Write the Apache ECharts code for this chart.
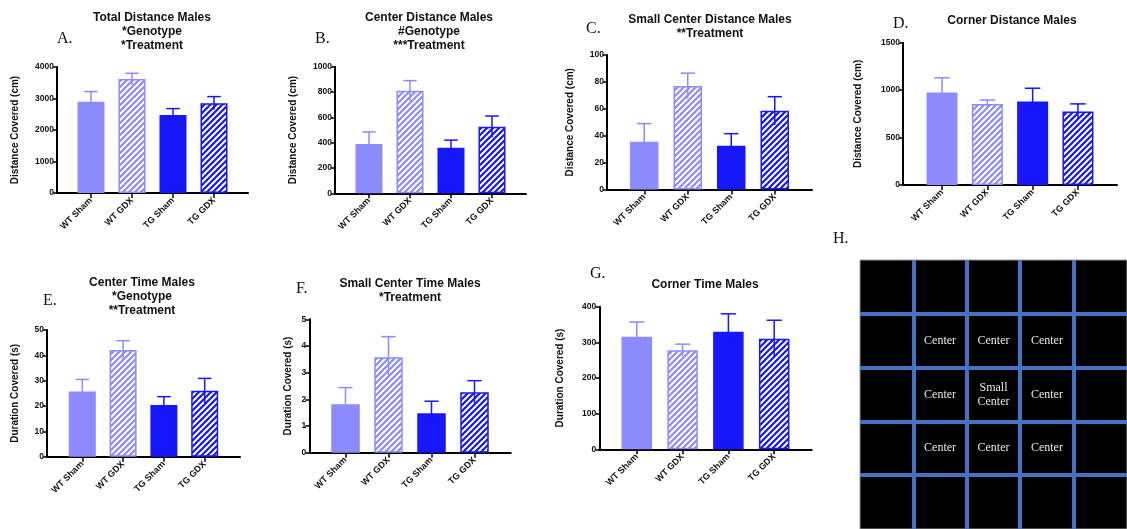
<!DOCTYPE html>
<html>
<head>
<meta charset="utf-8">
<script src="https://cdn.jsdelivr.net/npm/echarts@6/dist/echarts.min.js"></script>
<style>
  html, body { margin: 0; padding: 0; background: #fff; }
  #chart { width: 1127px; height: 529px; }
</style>
</head>
<body>
<div id="chart"></div>
<script>
// Groups shared by every bar panel
const groups = ['WT Sham', 'WT GDX', 'TG Sham', 'TG GDX'];

// Mean and SEM per group
const totalDistMean = [2900, 3620, 2480, 2850];
const totalDistSem  = [320, 180, 200, 210];

const centerDistMean = [390, 810, 360, 525];
const centerDistSem  = [95, 80, 60, 85];

const smallCenterDistMean = [35.5, 77, 32.5, 58.5];
const smallCenterDistSem  = [13.5, 9.5, 9, 10.5];

const cornerDistMean = [975, 855, 880, 775];
const cornerDistSem  = [155, 40, 140, 80];

const centerTimeMean = [25.7, 42.1, 20.4, 26.0];
const centerTimeSem  = [4.8, 3.7, 3.3, 4.9];

const smallCenterTimeMean = [1.82, 3.58, 1.48, 2.27];
const smallCenterTimeSem  = [0.62, 0.77, 0.45, 0.43];

const cornerTimeMean = [316, 278, 330, 310];
const cornerTimeSem  = [41, 17, 50, 52];

// Open-field arena zones: [column, row (from bottom), label]
const arenaCells = [
  [1, 3, 'Center'], [2, 3, 'Center'], [3, 3, 'Center'],
  [1, 2, 'Center'], [2, 2, 'Small\nCenter'], [3, 2, 'Center'],
  [1, 1, 'Center'], [2, 1, 'Center'], [3, 1, 'Center']
];
const arenaSize = 5;

// Panel layout
const panels = [
  { title: 'Total Distance Males\n*Genotype\n*Treatment', tx: 152, ty: 11, letter: 'A.', lx: 57, ly: 31,
    mean: totalDistMean, sem: totalDistSem, yName: 'Distance Covered (cm)', yMax: 4000, yStep: 1000,
    left: 57, right: 248, top: 67, bottom: 193, step: 41, barW: 27, nameGap: 37 },
  { title: 'Center Distance Males\n#Genotype\n***Treatment', tx: 429, ty: 11, letter: 'B.', lx: 315, ly: 31,
    mean: centerDistMean, sem: centerDistSem, yName: 'Distance Covered (cm)', yMax: 1000, yStep: 200,
    left: 335, right: 526, top: 66.7, bottom: 193.3, step: 41, barW: 27, nameGap: 37 },
  { title: 'Small Center Distance Males\n**Treatment', tx: 710, ty: 13, letter: 'C.', lx: 586, ly: 21,
    mean: smallCenterDistMean, sem: smallCenterDistSem, yName: 'Distance Covered (cm)', yMax: 100, yStep: 20,
    left: 607, right: 812, top: 55, bottom: 189.5, step: 43.5, barW: 28.5, nameGap: 32 },
  { title: 'Corner Distance Males', tx: 1012, ty: 14, letter: 'D.', lx: 893, ly: 16,
    mean: cornerDistMean, sem: cornerDistSem, yName: 'Distance Covered (cm)', yMax: 1500, yStep: 500,
    left: 903, right: 1117, top: 42.7, bottom: 185, step: 45.3, barW: 31, nameGap: 40 },
  { title: 'Center Time Males\n*Genotype\n**Treatment', tx: 142, ty: 276, letter: 'E.', lx: 43, ly: 293,
    mean: centerTimeMean, sem: centerTimeSem, yName: 'Duration Covered (s)', yMax: 50, yStep: 10,
    left: 47, right: 240, top: 330, bottom: 456.7, step: 40.8, barW: 27, nameGap: 27 },
  { title: 'Small Center Time Males\n*Treatment', tx: 410, ty: 277, letter: 'F.', lx: 296, ly: 281,
    mean: smallCenterTimeMean, sem: smallCenterTimeSem, yName: 'Duration Covered (s)', yMax: 5, yStep: 1,
    left: 309.3, right: 510.7, top: 319.3, bottom: 452.7, step: 43, barW: 28.5, nameGap: 16 },
  { title: 'Corner Time Males', tx: 705, ty: 278, letter: 'G.', lx: 590, ly: 266,
    mean: cornerTimeMean, sem: cornerTimeSem, yName: 'Duration Covered (s)', yMax: 400, yStep: 100,
    left: 599.3, right: 811.7, top: 306.7, bottom: 449.3, step: 45.8, barW: 30.5, nameGap: 34 }
];

const WT = '#8c8cff';
const TG = '#1717fb';
const SANS = '"Liberation Sans", Arial, sans-serif';
const SERIF = '"Liberation Serif", "Times New Roman", serif';

// Diagonal white hatching over a base colour
function hatch(base) {
  const c = document.createElement('canvas');
  c.width = 6; c.height = 6;
  const g = c.getContext('2d');
  g.fillStyle = base;
  g.fillRect(0, 0, 6, 6);
  g.strokeStyle = '#ffffff';
  g.lineWidth = 2;
  g.beginPath();
  g.moveTo(-3, 3); g.lineTo(3, -3);
  g.moveTo(-1, 7); g.lineTo(7, -1);
  g.moveTo(3, 9); g.lineTo(9, 3);
  g.stroke();
  return { image: c, repeat: 'repeat' };
}

const groupBase = [WT, WT, TG, TG];
const groupFill = [WT, hatch(WT), TG, hatch(TG)];

const grid = [], xAxis = [], yAxis = [], series = [], title = [], graphic = [];

panels.forEach((p, k) => {
  const w = p.right - p.left;
  const h = p.bottom - p.top;
  const inset = (w - 4 * p.step) / 2;

  // outer frame: y axis and full-length x axis line
  grid.push({ left: p.left, top: p.top, width: w, height: h });
  // inner band: categories and bars
  grid.push({ left: p.left + inset, top: p.top, width: 4 * p.step, height: h });

  xAxis.push({
    gridIndex: 2 * k, type: 'value', min: 0, max: 1,
    axisLine: { show: true, lineStyle: { color: '#000', width: 2 } },
    axisTick: { show: false }, axisLabel: { show: false }, splitLine: { show: false }
  });
  xAxis.push({
    gridIndex: 2 * k + 1, type: 'category', data: groups,
    axisLine: { show: false },
    axisTick: { show: true, alignWithLabel: true, length: 5, lineStyle: { color: '#000', width: 1.5 } },
    axisLabel: { rotate: 45, margin: 6, color: '#111', fontFamily: SANS, fontWeight: 'bold', fontSize: 9, interval: 0 }
  });

  yAxis.push({
    gridIndex: 2 * k, type: 'value', min: 0, max: p.yMax, interval: p.yStep,
    name: p.yName, nameLocation: 'middle', nameGap: p.nameGap, nameRotate: 90,
    nameTextStyle: { color: '#111', fontFamily: SANS, fontWeight: 'bold', fontSize: 10 },
    axisLine: { show: true, lineStyle: { color: '#000', width: 2 } },
    axisTick: { show: true, length: 4, lineStyle: { color: '#000', width: 1.5 } },
    axisLabel: { color: '#111', fontFamily: SANS, fontWeight: 'bold', fontSize: 8.5, margin: 3,
                 formatter: (v) => String(v) },
    splitLine: { show: false }
  });
  yAxis.push({
    gridIndex: 2 * k + 1, type: 'value', min: 0, max: p.yMax, show: false, splitLine: { show: false }
  });

  series.push({
    type: 'bar', xAxisIndex: 2 * k + 1, yAxisIndex: 2 * k + 1,
    barWidth: p.barW, z: 2,
    data: p.mean.map((v, i) => ({
      value: v,
      itemStyle: { color: groupFill[i], borderColor: groupBase[i], borderWidth: 1.5 }
    }))
  });

  const cap = p.barW / 4;
  series.push({
    type: 'custom', xAxisIndex: 2 * k + 1, yAxisIndex: 2 * k + 1, z: 3,
    encode: { x: 0, y: 1 },
    data: p.mean.map((v, i) => [i, v, p.sem[i]]),
    renderItem(params, api) {
      const i = api.value(0), m = api.value(1), e = api.value(2);
      const hi = api.coord([i, m + e]);
      const lo = api.coord([i, m - e]);
      const stroke = groupBase[i];
      return {
        type: 'group',
        children: [
          { type: 'line', shape: { x1: hi[0], y1: hi[1], x2: lo[0], y2: lo[1] },
            style: { stroke, lineWidth: 1.5 } },
          { type: 'line', shape: { x1: hi[0] - cap, y1: hi[1], x2: hi[0] + cap, y2: hi[1] },
            style: { stroke, lineWidth: 1.5 } }
        ]
      };
    }
  });

  title.push({
    text: p.title, left: p.tx, top: p.ty, textAlign: 'center', padding: 0,
    textStyle: { fontFamily: SANS, fontWeight: 'bold', fontSize: 12, lineHeight: 14, color: '#111' }
  });

  graphic.push({
    type: 'text', left: p.lx, top: p.ly,
    style: { text: p.letter, font: '16px ' + SERIF, fill: '#111' }
  });
});

// Arena diagram
const arenaGrid = grid.length;
grid.push({
  left: 860, top: 260, width: 271.5, height: 271,
  show: true, backgroundColor: '#000', borderColor: '#9a9a9a', borderWidth: 1
});
const arenaAxis = (idx) => ({
  gridIndex: idx, type: 'value', min: 0, max: arenaSize, interval: 1,
  axisLine: { show: false }, axisTick: { show: false }, axisLabel: { show: false },
  splitLine: { show: true, showMinLine: false, showMaxLine: false, lineStyle: { color: '#4472c4', width: 4 } }
});
xAxis.push(arenaAxis(arenaGrid));
yAxis.push(arenaAxis(arenaGrid));
series.push({
  type: 'custom', xAxisIndex: xAxis.length - 1, yAxisIndex: yAxis.length - 1,
  silent: true, z: 5,
  encode: { x: 0, y: 1 },
  data: arenaCells.map(c => [c[0] + 0.5, c[1] + 0.5, c[2]]),
  renderItem(params, api) {
    const pt = api.coord([api.value(0), api.value(1)]);
    const label = arenaCells[params.dataIndex][2];
    return {
      type: 'text', x: pt[0], y: pt[1],
      style: {
        text: label, fill: '#e8e8e8', font: '12px ' + SERIF, lineHeight: 14,
        align: 'center', verticalAlign: 'middle'
      }
    };
  }
});
graphic.push({
  type: 'text', left: 833, top: 231,
  style: { text: 'H.', font: '16px ' + SERIF, fill: '#111' }
});

const chart = echarts.init(document.getElementById('chart'), null, { renderer: 'canvas' });
chart.setOption({
  backgroundColor: '#fff',
  animation: false,
  title, grid, xAxis, yAxis, series, graphic
});
</script>
</body>
</html>
